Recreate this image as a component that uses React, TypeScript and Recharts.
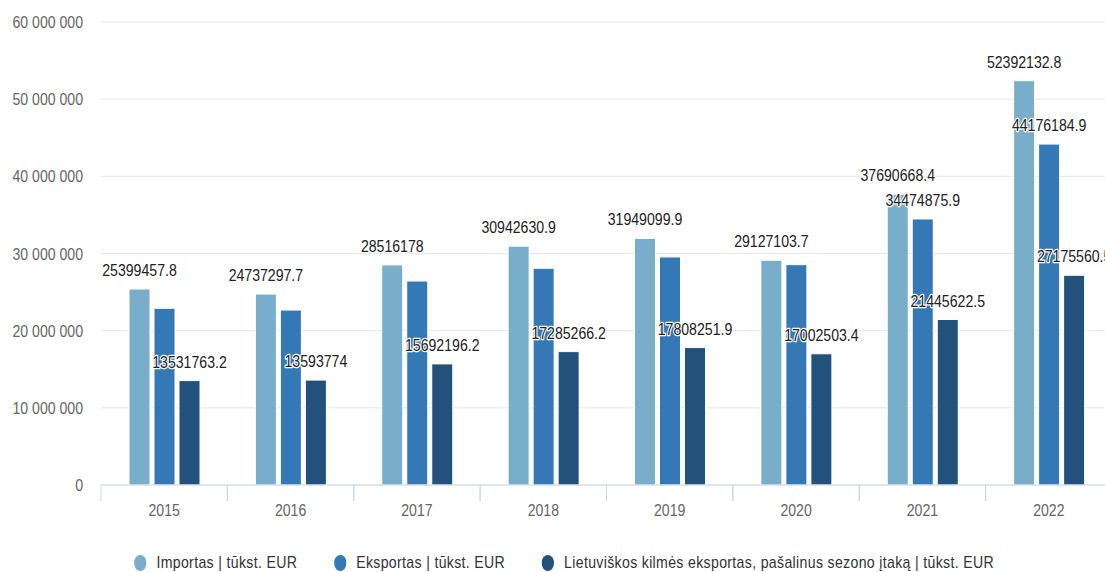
import { BarChart, Bar, XAxis, YAxis, CartesianGrid, LabelList } from "recharts";

const years = ["2015", "2016", "2017", "2018", "2019", "2020", "2021", "2022"];
const importas = [
  25399457.8, 24737297.7, 28516178, 30942630.9, 31949099.9, 29127103.7, 37690668.4, 52392132.8,
];
const eksportas = [
  22890000, 22670000, 26430000, 28080000, 29550000, 28550000, 34474875.9, 44176184.9,
];
const lietuviskos = [
  13531763.2, 13593774, 15692196.2, 17285266.2, 17808251.9, 17002503.4, 21445622.5, 27175560.5,
];
// export labels that stay visible (the rest collide and are hidden)
const eksportasLabelYears = ["2021", "2022"];
const yTicks = [0, 10000000, 20000000, 30000000, 40000000, 50000000, 60000000];

const series = [
  { key: "importas", name: "Importas | tūkst. EUR", color: "#79aecb" },
  { key: "eksportas", name: "Eksportas | tūkst. EUR", color: "#3478b6" },
  { key: "lietuviskos", name: "Lietuviškos kilmės eksportas, pašalinus sezono įtaką | tūkst. EUR", color: "#22517c" },
];

const data = years.map((year, i) => ({
  year,
  importas: importas[i],
  eksportas: eksportas[i],
  lietuviskos: lietuviskos[i],
}));

const FONT = "'Liberation Sans', Arial, sans-serif";
const SX = 0.83; // narrow the glyphs horizontally
const CHART_W = 1112;
const CHART_H = 530;
const Y_AXIS_W = 101;
const BAND = (CHART_W - Y_AXIS_W) / years.length;

const fmtAxis = (v: number) => String(v).replace(/\B(?=(\d{3})+(?!\d))/g, " ");

function NarrowText({ x, y, anchor, fill, outline, children }: any) {
  return (
    <text
      transform={`translate(${x},${y}) scale(${SX},1)`}
      textAnchor={anchor}
      fontFamily={FONT}
      fontSize={17}
      fill={fill}
      stroke={outline ? "#fff" : "none"}
      strokeWidth={outline ? 2.5 : 0}
      strokeLinejoin="round"
      paintOrder="stroke"
    >
      {children}
    </text>
  );
}

function ValueLabel(props: any) {
  const { x, y, width, value } = props;
  if (value == null) return null;
  return (
    <NarrowText x={x + width / 2} y={y - 13} anchor="middle" fill="#222" outline>
      {value}
    </NarrowText>
  );
}

function EksportasLabel(props: any) {
  const year = years[props.index];
  if (!eksportasLabelYears.includes(year)) return null;
  return <ValueLabel {...props} />;
}

function YearTick(props: any) {
  const { x, y, payload } = props;
  const left = x - BAND / 2;
  return (
    <g>
      <line x1={left} y1={y} x2={left} y2={y + 16} stroke="#ccd6eb" />
      <line x1={left + BAND} y1={y} x2={left + BAND} y2={y + 16} stroke="#ccd6eb" />
      <NarrowText x={x} y={y + 31} anchor="middle" fill="#666">
        {payload.value}
      </NarrowText>
    </g>
  );
}

function ValueTick(props: any) {
  const { x, y, payload } = props;
  return (
    <NarrowText x={x} y={y + 6} anchor="end" fill="#666">
      {fmtAxis(payload.value)}
    </NarrowText>
  );
}

function LegendRow() {
  return (
    <div
      style={{
        position: "absolute",
        top: CHART_H + 23,
        left: 0,
        width: 1128,
        display: "flex",
        justifyContent: "center",
        gap: 44,
        fontFamily: FONT,
        fontSize: 17,
        letterSpacing: 0.4,
        color: "#333",
        transform: `scaleX(${SX})`,
        transformOrigin: "564px 0",
      }}
    >
      {series.map((s) => (
        <div key={s.key} style={{ display: "flex", alignItems: "center", gap: 12 }}>
          <svg width={15} height={16}>
            <ellipse cx={7.5} cy={8} rx={7.5} ry={8} fill={s.color} />
          </svg>
          <span>{s.name}</span>
        </div>
      ))}
    </div>
  );
}

export default function App() {
  return (
    <div
      style={{
        position: "absolute",
        left: 0,
        top: 0,
        width: 1105,
        height: 572,
        overflow: "hidden",
        background: "#fff",
      }}
    >
      <BarChart
        width={CHART_W}
        height={CHART_H}
        data={data}
        margin={{ top: 22, right: 0, left: 0, bottom: 0 }}
        barSize={21}
        barGap={4}
      >
        <CartesianGrid vertical={false} stroke="#e6e6e6" />
        <XAxis
          dataKey="year"
          height={45}
          axisLine={{ stroke: "#ccd6eb" }}
          tickLine={false}
          tickSize={0}
          tickMargin={0}
          tick={<YearTick />}
          interval={0}
        />
        <YAxis
          width={Y_AXIS_W}
          domain={[0, 60000000]}
          ticks={yTicks}
          axisLine={false}
          tickLine={false}
          tickSize={0}
          tickMargin={18}
          tick={<ValueTick />}
        />
        <Bar dataKey="importas" name={series[0].name} fill={series[0].color} stroke="#fff" isAnimationActive={false}>
          <LabelList dataKey="importas" content={<ValueLabel />} />
        </Bar>
        <Bar dataKey="eksportas" name={series[1].name} fill={series[1].color} stroke="#fff" isAnimationActive={false}>
          <LabelList dataKey="eksportas" content={<EksportasLabel />} />
        </Bar>
        <Bar dataKey="lietuviskos" name={series[2].name} fill={series[2].color} stroke="#fff" isAnimationActive={false}>
          <LabelList dataKey="lietuviskos" content={<ValueLabel />} />
        </Bar>
      </BarChart>
      <LegendRow />
    </div>
  );
}
